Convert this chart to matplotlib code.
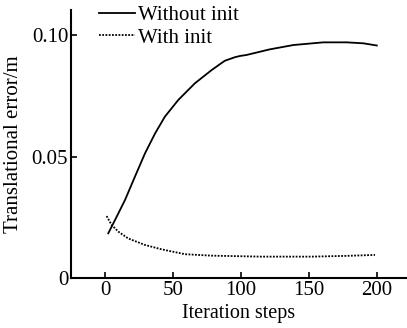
import matplotlib.pyplot as plt

plt.rcParams['font.family'] = ['Liberation Serif', 'DejaVu Serif']

# values
steps_without = [2.4, 7.4, 14.7, 22, 29.4, 36.8, 44, 53.9, 66, 78.4, 88, 95.6, 99.3, 104,
                 121, 138.5, 160.5, 177.7, 190, 199.8]
err_without = [0.0184, 0.0239, 0.0321, 0.0417, 0.0513, 0.0595, 0.0664, 0.0733, 0.0801,
               0.0856, 0.0894, 0.0909, 0.0914, 0.0918, 0.0941, 0.0959, 0.0970, 0.0970,
               0.0966, 0.0957]

steps_with = [1.2, 4.9, 9.8, 17, 29.4, 41.7, 58.8, 78.4, 115, 152, 176.5, 198.5]
err_with = [0.0255, 0.0218, 0.0191, 0.0163, 0.0136, 0.0118, 0.0098, 0.0092, 0.0088,
            0.0088, 0.0091, 0.0095]

xticks = [0, 50, 100, 150, 200]
yticks = [0, 0.05, 0.10]
yticklabels = ['0', '0.05', '0.10']

fig = plt.figure(figsize=(4.07, 3.28), dpi=100)
ax = fig.add_axes([0.1744, 0.1524, 0.8256, 0.817])

ax.plot(steps_without, err_without, color='black', linewidth=1.3, label='Without init')
ax.plot(steps_with, err_with, color='black', linewidth=1.3, linestyle=(0, (1, 0.8)),
        label='With init')

ax.set_xlim(-25, 222)
ax.set_ylim(0, 0.1103)
ax.set_xticks(xticks)
ax.set_yticks(yticks)
ax.set_yticklabels(yticklabels)
ax.tick_params(direction='in', length=4, width=1.2, labelsize=15, pad=2)
ax.spines['top'].set_visible(False)
ax.spines['right'].set_visible(False)
ax.spines['left'].set_linewidth(1.5)
ax.spines['bottom'].set_linewidth(1.5)

ax.set_xlabel('Iteration steps', fontsize=14.5, labelpad=3)
ax.set_ylabel('Translational error/m', fontsize=15, labelpad=6)

fig.legend(loc='upper left', bbox_to_anchor=(0.237, 0.99), frameon=False, fontsize=15,
           handlelength=1.75, handletextpad=0.15, labelspacing=0.15, borderpad=0.1,
           borderaxespad=0)

fig.savefig('out.png', dpi=100)
